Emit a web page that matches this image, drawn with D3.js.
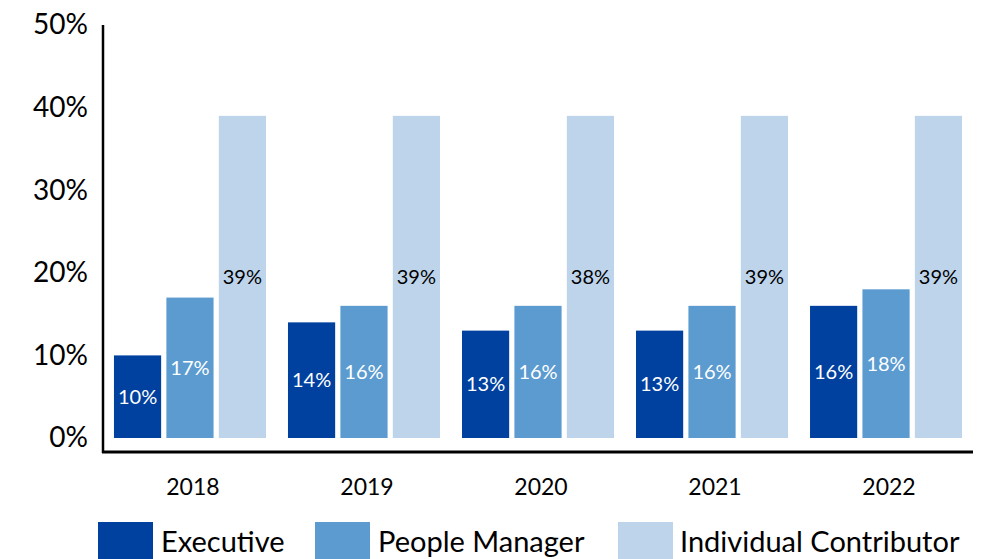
<!DOCTYPE html>
<html>
<head>
<meta charset="utf-8">
<script src="https://cdn.jsdelivr.net/npm/d3@7"></script>
<style>
  body { margin: 0; background: #fff; }
  svg { display: block; font-family: Lato, "Noto Sans", sans-serif; }
</style>
</head>
<body>
<svg id="chart" width="993" height="559"></svg>
<script>
var years = ["2018", "2019", "2020", "2021", "2022"];
var series = ["Executive", "People Manager", "Individual Contributor"];
var executive = [10, 14, 13, 13, 16];
var peopleManager = [17, 16, 16, 16, 18];
var individualContributor = [39, 39, 39, 39, 39];
// labels as printed on the chart (2020 reads 38% though the bar is drawn at 39)
var executiveLabels = ["10%", "14%", "13%", "13%", "16%"];
var managerLabels = ["17%", "16%", "16%", "16%", "18%"];
var contributorLabels = ["39%", "39%", "38%", "39%", "39%"];
var yTicks = [0, 10, 20, 30, 40, 50];
var colors = ["#0041a0", "#5b9bd0", "#bdd4eb"];

var svg = d3.select("#chart");

var x = d3.scaleBand().domain(years).range([103, 973]).paddingInner(0.1264).paddingOuter(0.063);
var xs = d3.scaleBand().domain(series).range([0, x.bandwidth()]).paddingInner(0.1);
var y = d3.scaleLinear().domain([0, 50]).range([438, 25]);

var data = years.map(function(yr, i) {
  return [
    { year: yr, key: series[0], v: executive[i], label: executiveLabels[i] },
    { year: yr, key: series[1], v: peopleManager[i], label: managerLabels[i] },
    { year: yr, key: series[2], v: individualContributor[i], label: contributorLabels[i] }
  ];
});

var groups = svg.selectAll("g.year")
  .data(data)
  .enter()
  .append("g")
  .attr("class", "year")
  .attr("transform", function(d) { return "translate(" + x(d[0].year) + ",0)"; });

groups.selectAll("rect")
  .data(function(d) { return d; })
  .enter()
  .append("rect")
  .attr("x", function(d) { return xs(d.key); })
  .attr("width", xs.bandwidth())
  .attr("y", function(d) { return y(d.v); })
  .attr("height", function(d) { return y(0) - y(d.v); })
  .attr("fill", function(d, i) { return colors[i]; });

groups.selectAll("text")
  .data(function(d) { return d; })
  .enter()
  .append("text")
  .attr("x", function(d) { return xs(d.key) + xs.bandwidth() / 2; })
  .attr("y", function(d) { return (y(d.v) + y(0)) / 2; })
  .attr("dy", "0.35em")
  .attr("text-anchor", "middle")
  .attr("font-size", 20)
  .attr("fill", function(d, i) { return i < 2 ? "#fff" : "#000"; })
  .text(function(d) { return d.label; });

// y axis
var yAxis = d3.axisLeft(y).tickValues(yTicks).tickSize(0).tickPadding(15)
  .tickFormat(function(d) { return d + "%"; });
var gy = svg.append("g").attr("transform", "translate(103,0)").call(yAxis);
gy.select(".domain").remove();
gy.selectAll("text").attr("font-size", 28).attr("fill", "#000").attr("font-family", "Lato, sans-serif");

svg.append("line").attr("x1", 103).attr("x2", 103).attr("y1", 25).attr("y2", 453)
  .attr("stroke", "#000").attr("stroke-width", 2.5);
svg.append("line").attr("x1", 102).attr("x2", 973).attr("y1", 452).attr("y2", 452)
  .attr("stroke", "#000").attr("stroke-width", 3);

// x labels
svg.selectAll("text.xl")
  .data(years)
  .enter()
  .append("text")
  .attr("class", "xl")
  .attr("x", function(d) { return x(d) + x.bandwidth() / 2 + 3; })
  .attr("y", 495)
  .attr("text-anchor", "middle")
  .attr("font-size", 23)
  .attr("fill", "#000")
  .text(function(d) { return d; });

// legend
var legendX = [98, 315, 618];
var lg = svg.selectAll("g.lg")
  .data(series)
  .enter()
  .append("g")
  .attr("class", "lg")
  .attr("transform", function(d, i) { return "translate(" + legendX[i] + ",522)"; });
lg.append("rect").attr("width", 55).attr("height", 40).attr("fill", function(d, i) { return colors[i]; });
lg.append("text").attr("x", function(d, i) { return i === 2 ? 62 : 63; }).attr("y", 30)
  .attr("font-size", 29).attr("fill", "#000")
  .text(function(d) { return d; });
</script>
</body>
</html>
